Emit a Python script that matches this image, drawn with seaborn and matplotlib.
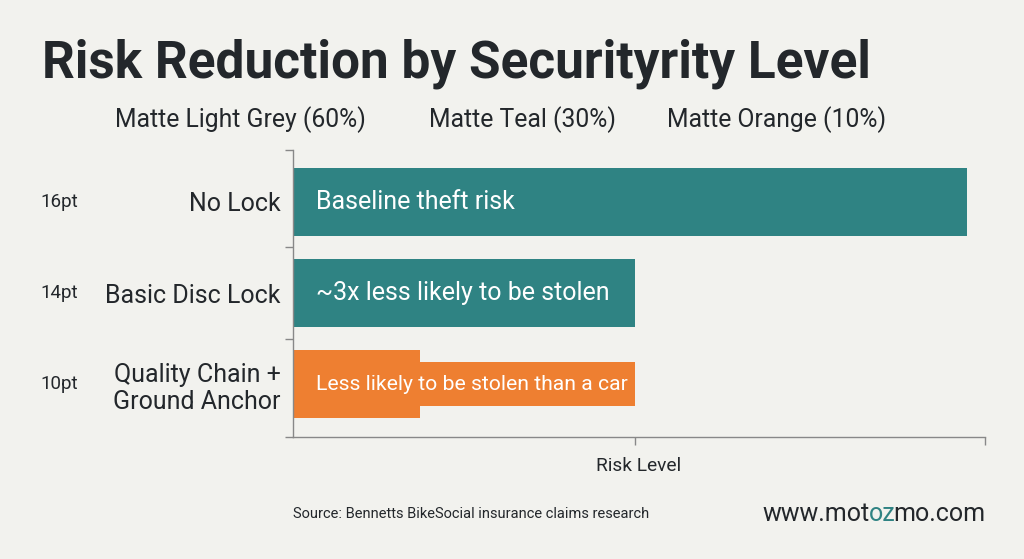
import matplotlib
matplotlib.use("Agg")
import matplotlib.pyplot as plt
import matplotlib.transforms as mtransforms
import seaborn as sns
import pandas as pd

categories = ["No Lock", "Basic Disc Lock", "Quality Chain +\nGround Anchor"]
risk_values = [98.5, 50, 18.5]
bar_colors = ["#2F8383", "#2F8383", "#EE7F31"]
bar_labels = ["Baseline theft risk", "~3x less likely to be stolen", "Less likely to be stolen than a car"]
label_sizes = [18, 18, 15.2]
size_notes = ["16pt", "14pt", "10pt"]
extension_category = ["Quality Chain +\nGround Anchor"]
extension_values = [50]
legend_labels = ["Matte Light Grey (60%)", "Matte Teal (30%)", "Matte Orange (10%)"]

BG = "#F2F2EE"
DARK = "#23272B"
TEAL = "#2F8383"

sns.set_theme(style="white")
plt.rcParams["font.family"] = ["Roboto", "DejaVu Sans"]

fig = plt.figure(figsize=(10.24, 5.59), dpi=100, facecolor=BG)
ax = fig.add_axes([293/1024, 1-437/559, 692/1024, 287/559])
ax.set_facecolor(BG)

df = pd.DataFrame({"category": categories, "risk": risk_values, "color": bar_colors})
ext = pd.DataFrame({"category": extension_category, "risk": extension_values})

sns.barplot(data=ext, x="risk", y="category", order=categories, color="#EE7F31",
            width=0.49, ax=ax, saturation=1, linewidth=0)
sns.barplot(data=df, x="risk", y="category", hue="category", order=categories,
            palette=dict(zip(categories, bar_colors)), width=0.74, ax=ax,
            saturation=1, legend=False, dodge=False, linewidth=0)

ax.set_xlim(0, 101.2)
y_top, y_bot = -0.57, 2.58
ax.set_ylim(y_bot, y_top)

for i, (txt, sz) in enumerate(zip(bar_labels, label_sizes)):
    ax.text(3.3, i, txt, color="white", fontsize=sz, va="center", ha="left", zorder=10)

# ticks
ax.set_xticks([50, 101.2])
ax.set_xticklabels([])
ax.set_yticks([y_top, 0.5, 1.5, y_bot])
ax.set_yticklabels([])
ax.set_yticks([0, 1, 2], minor=True)
ax.set_yticklabels(categories, minor=True, fontsize=18, color=DARK, linespacing=1.2)
ax.tick_params(axis="y", which="minor", length=0, pad=9)
ax.tick_params(axis="both", which="major", length=6, color="#888888", width=1, bottom=True, left=True)
ax.set_ylabel("")
ax.set_xlabel("Risk Level", fontsize=13.8, color=DARK, labelpad=5)

for s in ["top", "right"]:
    ax.spines[s].set_visible(False)
for s in ["left", "bottom"]:
    ax.spines[s].set_color("#888888")
    ax.spines[s].set_linewidth(1)

trans = mtransforms.blended_transform_factory(fig.transFigure, ax.transData)
for i, note in enumerate(size_notes):
    ax.text(40/1024, i, note, transform=trans, fontsize=13.5, color=DARK, va="center", ha="left")

fig.text(42/1024, 1-64/559, "Risk Reduction by Securityrity Level", fontsize=37,
         fontweight="bold", color=DARK, va="center", ha="left")

for x, lab in zip([115, 429, 667], legend_labels):
    fig.text(x/1024, 1-120/559, lab, fontsize=17.8, color=DARK, va="center", ha="left")

fig.text(293/1024, 1-514/559, "Source: Bennetts BikeSocial insurance claims research",
         fontsize=10.5, color=DARK, va="center", ha="left")

# website "www.motozmo.com" with "oz" in teal, ending near x=985 px
site_head, site_mid, site_tail = "www.mot", "oz", "mo.com"
SITE_SIZE = 18
R = 985
ybase = 1 - 514/559
fig.canvas.draw()
renderer = fig.canvas.get_renderer()

def ink_width(s):
    t = fig.text(0, 0, s, fontsize=SITE_SIZE)
    w = t.get_window_extent(renderer=renderer).width
    t.remove()
    return w

w_full = ink_width(site_head + site_mid + site_tail)
w_midtail = ink_width(site_mid + site_tail)
w_tail = ink_width(site_tail)
L = R - w_full + 3
fig.text(L/1024, ybase, site_head, fontsize=SITE_SIZE, color=DARK, va="center", ha="left")
fig.text((L + w_full - w_midtail)/1024, ybase, site_mid, fontsize=SITE_SIZE, color=TEAL, va="center", ha="left")
fig.text((L + w_full - w_tail - 3)/1024, ybase, site_tail, fontsize=SITE_SIZE, color=DARK, va="center", ha="left")

fig.savefig("out.png", dpi=100, facecolor=BG)
